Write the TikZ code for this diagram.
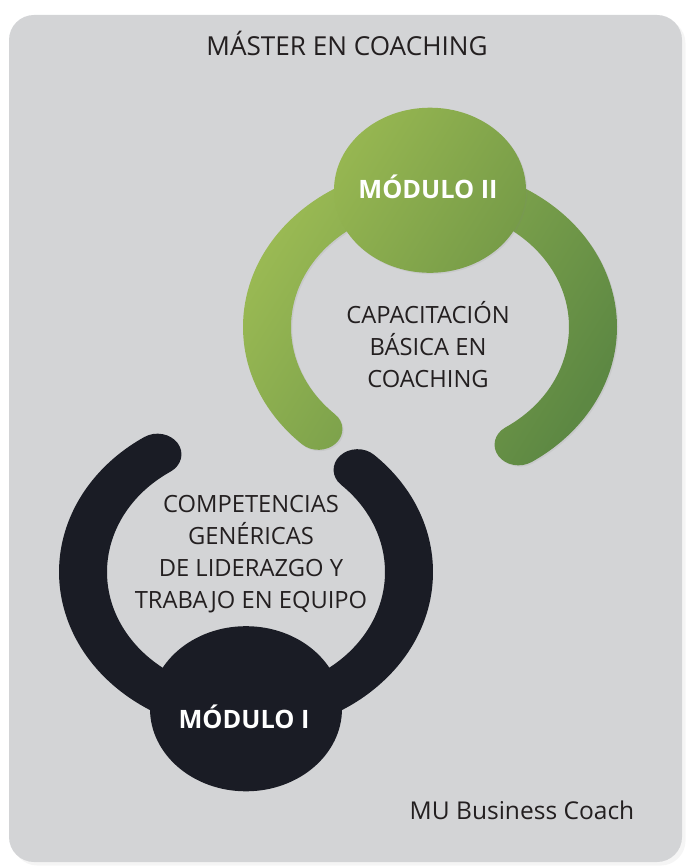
\documentclass[tikz,border=0pt]{standalone}
\usepackage{fontspec}
\setmainfont{Open Sans}
\usetikzlibrary{shadows}

\definecolor{panelgray}{HTML}{D3D4D6}
\definecolor{greenlight}{HTML}{9DBC54}
\definecolor{greendark}{HTML}{5D8843}
\definecolor{circlelight}{HTML}{96B651}
\definecolor{circledark}{HTML}{779C48}
\definecolor{moduleblack}{HTML}{1A1C25}
\definecolor{textgray}{HTML}{231F20}

\newcommand{\ringpath}{(226.8:187) arc[start angle=226.8, end angle=-57.1, radius=187]
  arc[start angle=-57.1, end angle=-237.1, radius=24]
  arc[start angle=-57.1, end angle=226.8, radius=139]
  arc[start angle=46.8, end angle=-133.2, radius=24] -- cycle}

\begin{document}
\begin{tikzpicture}[x=0.75pt,y=-0.75pt,
    header/.style={text=textgray, font=\fontsize{19.6}{24}\selectfont},
    body/.style={align=center, text=textgray, font=\fontsize{17.8}{24}\selectfont},
    modlabel/.style={text=white, font=\bfseries\fontsize{19}{24}\selectfont},
    soft/.style={drop shadow={opacity=0.12, shadow xshift=1pt, shadow yshift=-1pt}}]

  \useasboundingbox (0,0) rectangle (685,866);
  \fill[panelgray, rounded corners=18.75pt, drop shadow={opacity=0.08}] (9,15) rectangle (682,862);

  \begin{scope}[shift={(430,327)}, yscale=-0.86]
    \shade[soft, left color=greenlight, right color=greendark, shading angle=58] \ringpath;
    \shade[soft, left color=circlelight, right color=circledark, shading angle=58] (0,159) circle[radius=96];
  \end{scope}

  \begin{scope}[shift={(246,572)}, yscale=-0.86, rotate=180]
    \fill[moduleblack] \ringpath;
    \fill[moduleblack] (0,159) circle[radius=96];
  \end{scope}

  \node[header, anchor=base] (title) at (347,56) {MÁSTER EN COACHING};
  \node[header, anchor=base, font=\fontsize{18.4}{24}\selectfont] (brand) at (522,819) {MU Business Coach};

  \node[modlabel, anchor=base] (mod2) at (428,199) {MÓDULO II};
  \node[body, anchor=base] (mod2txt) at (428,387) {CAPACITACIÓN\\BÁSICA EN\\COACHING};

  \node[modlabel, anchor=base] (mod1) at (244,728) {MÓDULO I};
  \node[body, anchor=base] (mod1txt) at (251,608) {COMPETENCIAS\\GENÉRICAS\\DE LIDERAZGO Y\\TRABAJO EN EQUIPO};
\end{tikzpicture}
\end{document}
